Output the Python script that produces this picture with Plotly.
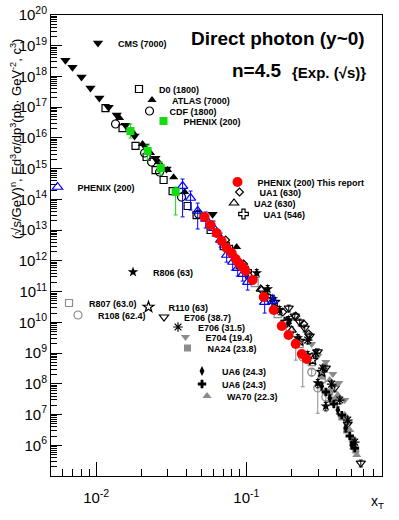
"""Direct photon x_T scaling plot, n = 4.5, world data."""

import plotly.graph_objects as go

# ---- data: x_T and (sqrt(s)/GeV)^n E d3sigma/dp3 ----
cms_x = [0.00624, 0.00695, 0.00798, 0.00916, 0.0105, 0.0121, 0.0137, 0.0157, 0.0180, 0.0210, 0.0248, 0.0294, 0.0596]
cms_y = [3.4e18, 2.0e18, 9.6e17, 4.2e17, 2.0e17, 1.0e17, 5.6e16, 2.6e16, 1.16e16, 5.5e15, 2.2e15, 9.7e14, 3.3e13]

d0_x = [0.01153, 0.01497, 0.01828, 0.02165, 0.02485, 0.0281, 0.03226, 0.0406, 0.0466, 0.0578, 0.0706, 0.0902]
d0_y = [9.4e16, 2.1e16, 5.5e15, 2.4e15, 9.0e14, 4.27e14, 1.87e14, 6.1e13, 3.1e13, 1.01e13, 3.04e12, 7.3e11]

atlas_x = [0.0143, 0.0177, 0.02035, 0.02301, 0.02602, 0.02988, 0.03276, 0.0388, 0.0861]
atlas_y = [4.45e16, 1.45e16, 6.3e15, 3.23e15, 1.64e15, 9.0e14, 5.3e14, 1.74e14, 2.8e12]

cdf_x = [0.01345, 0.0210, 0.02338, 0.02642, 0.0370, 0.0481]
cdf_y = [2.84e16, 3.23e15, 1.64e15, 7.8e14, 1.19e14, 3.3e13]

phenix_g_x = [0.0169, 0.0220, 0.0269, 0.0338]
phenix_g_y = [1.68e16, 3.75e15, 1.05e15, 1.74e14]
phenix_g_up = [1.16e16, 2.1e15, 0.6e15, 0.78e14]
phenix_g_dn = [0.69e16, 1.84e15, 0.43e15, 1.43e14]

phenix_b_x = [0.0376, 0.0425, 0.0474, 0.0536, 0.0605, 0.0674, 0.0739, 0.0811, 0.0875, 0.0945, 0.102, 0.1324, 0.1497]
phenix_b_y = [2.72e14, 1.11e14, 4.19e13, 2.30e13, 1.17e13, 4.8e12, 1.55e12, 9.2e11, 5.8e11, 3.7e11, 2.04e11, 4.57e10, 4.9e10]
phenix_b_up = [1.88e14, 7.6e13, 3.41e13, 1.6e13, 8.1e12, 3.2e12, 8.8e11, 5.2e11, 3.4e11, 2.1e11, 1.16e11, 3.13e10, 2.8e10]
phenix_b_dn = [2.45e14, 6.6e13, 3.1e13, 1.13e13, 5.3e12, 2.0e12, 6.4e11, 4.2e11, 2.6e11, 1.5e11, 0.92e11, 2.57e10, 2.0e10]

phenix_r_x = [0.0527, 0.0578, 0.0634, 0.0684, 0.0739, 0.0798, 0.0849, 0.0889, 0.0945, 0.0989,
              0.110, 0.1304, 0.152, 0.172, 0.191, 0.213, 0.234, 0.252]
phenix_r_y = [2.67e13, 1.47e13, 8.05e12, 4.43e12, 2.62e12, 1.80e12, 1.15e12, 8.5e11, 6.3e11, 4.68e11,
              2.38e11, 6.65e10, 2.51e10, 7.6e9, 3.86e9, 1.97e9, 9.3e8, 6.4e8]

ua1_630_x = [0.0728, 0.0959, 0.1265, 0.1746, 0.2133, 0.241, 0.260]
ua1_630_y = [4.77e12, 7.9e11, 1.12e11, 2.16e10, 1.6e10, 8.8e9, 4.16e9]

ua2_630_x = [0.0644, 0.0823, 0.1052, 0.1246, 0.1568, 0.2005]
ua2_630_y = [7.4e12, 1.55e12, 3.2e11, 1.21e11, 2.7e10, 5.6e9]

ua1_546_x = [0.0751, 0.1004, 0.1345, 0.1828]
ua1_546_y = [2.82e12, 4.64e11, 7.1e10, 1.02e10]

r806_x = [0.1172, 0.1387, 0.1498, 0.1667, 0.1914, 0.2198, 0.2563, 0.2987, 0.338]
r806_y = [4.0e11, 1.21e11, 5.7e10, 2.51e10, 1.19e10, 3.08e9, 8.6e8, 1.06e8, 1.88e7]

r807_x = [0.1136, 0.1324, 0.1617, 0.1944, 0.2266, 0.2724, 0.3176]
r807_y = [1.9e11, 7.1e10, 1.86e10, 5.6e9, 1.96e9, 5.1e8, 1.43e8]

r108_x = [0.2133, 0.2373, 0.2724, 0.2987, 0.338]
r108_y = [2.11e9, 7.4e8, 2.41e8, 7.3e7, 3.7e7]
r108_up = [0.5e9, 1.5e8, 0.6e8, 1.5e7, 1.0e7]
r108_dn = [1.52e9, 6.6e8, 0.6e8, 6.2e7, 1.0e7]

r110_x = [0.1544, 0.1856, 0.2266, 0.2764, 0.3176]
r110_y = [4.57e10, 1.02e10, 2.46e9, 5.9e8, 2.41e8]

e706_387_x = [0.1914, 0.210, 0.2266, 0.2447, 0.2642, 0.2987, 0.338, 0.388, 0.473, 0.578]
e706_387_y = [2.91e10, 1.6e10, 1.02e10, 6.5e9, 3.58e9, 1.09e9, 3.25e8, 7.3e7, 4.9e6, 2.64e5]

e706_315_x = [0.2563, 0.2894, 0.323, 0.370, 0.419, 0.473, 0.527]
e706_315_y = [2.65e9, 1.0e9, 3.25e8, 9.8e7, 2.96e7, 6.6e6, 1.27e6]

e704_x = [0.2724, 0.2987, 0.338, 0.3764, 0.4126, 0.452]
e704_y = [1.96e9, 8.0e8, 5.1e8, 2.08e8, 1.06e8, 2.96e7]

na24_x = [0.3176, 0.359, 0.382, 0.432, 0.466, 0.511, 0.535]
na24_y = [1.79e8, 5.4e7, 2.96e7, 8.3e6, 3.13e6, 1.48e6, 7.0e5]

ua6_d_x = [0.3176, 0.359, 0.4064, 0.459, 0.503]
ua6_d_y = [8.4e7, 3.44e7, 1.4e7, 3.63e6, 1.02e6]

ua6_c_x = [0.338, 0.382, 0.432, 0.488, 0.527]
ua6_c_y = [5.4e7, 2.19e7, 9.6e6, 2.0e6, 8.1e5]

wa70_x = [0.359, 0.4064, 0.452, 0.488, 0.543]
wa70_y = [1.33e8, 4.3e7, 9.6e6, 3.13e6, 4.8e5]

y_tickvals = [1e6, 1e7, 1e8, 1e9, 1e10, 1e11, 1e12, 1e13, 1e14, 1e15, 1e16, 1e17, 1e18, 1e19, 1e20]
y_ticktext = ["10<sup>%d</sup>" % e for e in range(6, 21)]
x_tickvals = [0.01, 0.1]
x_ticktext = ["10<sup>-2</sup>", "10<sup>-1</sup>"]

# ---- plot frame in pixels (399 x 520 canvas) ----
W, H = 399, 520
L, R, T, B = 51, 382, 15, 476
GRAY = "#8c8c8c"
FONT = "Liberation Sans, Arial, Helvetica, sans-serif"


def to_paper(px, py):
    return (px - L) / (R - L), (B - py) / (B - T)


# name, x, y, symbol, color, size, error (up, dn) or percent, legend spot (symbol x, text x, y)
series = [
    ("E706 (38.7)", e706_387_x, e706_387_y, "triangle-down-open", "black", 8, 25, (170, 178, 317)),
    ("E704 (19.4)", e704_x, e704_y, "triangle-down", GRAY, 8, None, (191, 200, 337)),
    ("NA24 (23.8)", na24_x, na24_y, "square", GRAY, 7, None, (193, 202, 348)),
    ("WA70 (22.3)", wa70_x, wa70_y, "triangle-up", GRAY, 8, None, (213, 221, 396)),
    ("R807 (63.0)", r807_x, r807_y, "square-open", GRAY, 7, None, (75, 83, 303)),
    ("R108 (62.4)", r108_x, r108_y, "circle-open", GRAY, 8, (r108_up, r108_dn), (84, 92, 315)),
    ("R110 (63)", r110_x, r110_y, "star-open", "black", 8, None, (154, 163, 307)),
    ("E706 (31.5)", e706_315_x, e706_315_y, "asterisk-open", "black", 8, 25, (183, 193, 327)),
    ("UA6 (24.3)", ua6_d_x, ua6_d_y, "diamond-tall", "black", 7, 25, (207, 217, 371)),
    ("UA6 (24.3) ", ua6_c_x, ua6_c_y, "cross", "black", 7, None, (207, 217, 384)),
    ("R806 (63)", r806_x, r806_y, "star", "black", 8, 30, (139, 147, 272)),
    ("UA1 (630)", ua1_630_x, ua1_630_y, "diamond-open", "black", 6, None, (245, 254, 192)),
    ("UA2 (630)", ua2_630_x, ua2_630_y, "triangle-up-open", "black", 8, None, (240, 248, 203)),
    ("UA1 (546)", ua1_546_x, ua1_546_y, "cross-open", "black", 8, None, (249, 258, 214)),
    ("D0 (1800)", d0_x, d0_y, "square-open", "black", 7, None, (145, 153, 89)),
    ("CDF (1800)", cdf_x, cdf_y, "circle-open", "black", 8, None, (155, 164, 111)),
    ("ATLAS (7000)", atlas_x, atlas_y, "triangle-up", "black", 8, None, (157, 167, 100)),
    ("CMS (7000)", cms_x, cms_y, "triangle-down", "black", 9, None, (103, 113, 43)),
    ("PHENIX (200)", phenix_b_x, phenix_b_y, "triangle-up-open", "#0000ff", 9,
     (phenix_b_up, phenix_b_dn), (63, 72, 187)),
    ("PHENIX (200)  ", phenix_g_x, phenix_g_y, "square", "#11dd11", 8,
     (phenix_g_up, phenix_g_dn), (169, 178, 121)),
    ("PHENIX (200) This report", phenix_r_x, phenix_r_y, "circle", "#ff0000", 10, None, (243, 252, 182)),
]

fig = go.Figure()
legends = {}
for i, (name, xs, ys, sym, col, size, err, spot) in enumerate(series):
    key = "legend" if i == 0 else f"legend{i + 1}"
    open_marker = sym.endswith("-open")
    marker = dict(symbol=sym, size=size, color=col,
                  line=dict(color=col, width=1.2 if open_marker else 0))
    error_y = None
    if isinstance(err, tuple):
        error_y = dict(type="data", array=err[0], arrayminus=err[1], symmetric=False,
                       color=col, thickness=1, width=2)
    elif err:
        error_y = dict(type="percent", value=err, color=col, thickness=1, width=2)
    fig.add_trace(go.Scatter(
        x=xs, y=ys, mode="markers", name=f"<b>{name.strip()}</b>",
        marker=marker, error_y=error_y, legend=key, showlegend=True,
    ))
    sx, tx, sy = spot
    origin = (sx + tx) / 2 - 30
    lx, ly = to_paper(origin, sy)
    legends[key] = dict(
        x=lx, y=ly, xanchor="left", yanchor="middle",
        bgcolor="rgba(0,0,0,0)", borderwidth=0,
        font=dict(family=FONT, size=9, color="black"),
    )

axis_common = dict(
    type="log", showgrid=False, zeroline=False, automargin=False,
    showline=True, linecolor="black", linewidth=1, mirror=True,
    ticks="inside", tickcolor="black", tickwidth=1, tickmode="array",
    tickfont=dict(family=FONT, size=15, color="black"),
)

fig.update_layout(
    width=W, height=H,
    margin=dict(l=L, r=W - R, t=T, b=H - B, autoexpand=False),
    paper_bgcolor="white", plot_bgcolor="white",
    font=dict(family=FONT, color="black"),
    xaxis=dict(axis_common, range=[-2.301, -0.0969], tickvals=x_tickvals, ticktext=x_ticktext,
               ticklen=14, ticklabelstandoff=8,
               minor=dict(ticks="inside", ticklen=7, tickcolor="black", dtick="D1", showgrid=False)),
    yaxis=dict(axis_common, range=[5, 20], tickvals=y_tickvals, ticktext=y_ticktext, ticklen=11,
               minor=dict(ticks="inside", ticklen=6, tickcolor="black", dtick="D1", showgrid=False)),
    **legends,
)

title_x, title_y = to_paper(367, 39)
n_x, n_y = to_paper(284, 71)
exp_x, exp_y = to_paper(290, 72)
ylab_x, ylab_y = to_paper(16, 139)
xlab_x, xlab_y = to_paper(377, 502)

annotations = [
    dict(text="<b>Direct photon (y~0)</b>", x=title_x, y=title_y, xanchor="right",
         font=dict(size=19)),
    dict(text="<b>n=4.5</b>", x=n_x, y=n_y, xanchor="right", font=dict(size=19)),
    dict(text="<b>{Exp. (√s)}</b>", x=exp_x, y=exp_y, xanchor="left", font=dict(size=15)),
    dict(text="(√s/GeV)<sup>n</sup>, Ed<sup>3</sup>σ/dp<sup>3</sup>(pb· GeV<sup>-2</sup>, c<sup>3</sup>)",
         x=ylab_x, y=ylab_y, textangle=-90, font=dict(size=13)),
    dict(text="x<sub>T</sub>", x=xlab_x, y=xlab_y, font=dict(size=14)),
]
for a in annotations:
    a.update(xref="paper", yref="paper", showarrow=False, yanchor="middle")
    a.setdefault("xanchor", "center")
    a["font"] = dict(family=FONT, color="black", **a["font"])
fig.update_layout(annotations=annotations)

# page body has a default 8px margin; drop it so the figure sits at the window corner
fig.write_html("out.html", config={"displayModeBar": False},
               post_script="document.body.style.margin = '0px';")
